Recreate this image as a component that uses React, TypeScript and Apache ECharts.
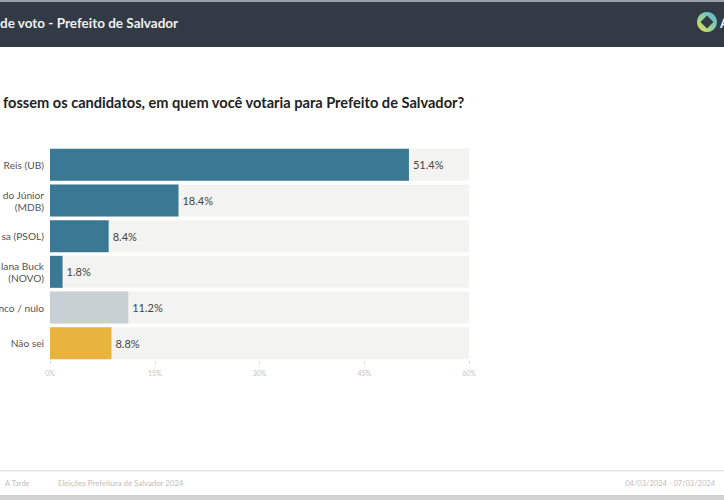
import React, { useEffect, useRef } from "react";
import * as echarts from "echarts";

const categories = ["Reis (UB)", "do Júnior\n(MDB)", "sa (PSOL)", "lana Buck\n(NOVO)", "nco / nulo", "Não sei"];
const values = [51.4, 18.4, 8.4, 1.8, 11.2, 8.8];
const barColors = ["#3b7893", "#3b7893", "#3b7893", "#3b7893", "#c9d0d4", "#e8b43e"];
const tickLabels = ["0%", "15%", "30%", "45%", "60%"];
const headerTitle = "de voto - Prefeito de Salvador";
const question = "fossem os candidatos, em quem você votaria para Prefeito de Salvador?";
const footerSource = "A Tarde";
const footerSurvey = "Eleições Prefeitura de Salvador 2024";
const footerDates = "04/03/2024 - 07/03/2024";

export default function App() {
  const ref = useRef<HTMLDivElement>(null);
  useEffect(() => {
    if (!ref.current) return;
    const chart = echarts.init(ref.current, null, { renderer: "svg" });
    chart.setOption({
      animation: false,
      backgroundColor: "#ffffff",
      textStyle: { fontFamily: "Lato" },
      grid: { left: 50, right: 255, top: 147, bottom: 139, containLabel: false, outerBoundsMode: "none" },
      xAxis: {
        type: "value",
        min: 0,
        max: 60,
        interval: 15,
        axisLine: { show: false },
        axisTick: { show: true, length: 3, lineStyle: { color: "#d8d8d8" } },
        splitLine: { show: false },
        axisLabel: {
          fontSize: 7,
          color: "#c4c4c4",
          margin: 8,
          formatter: (v: number) => tickLabels[Math.round(v / 15)] ?? "",
        },
      },
      yAxis: {
        type: "category",
        data: categories,
        inverse: true,
        axisLine: { show: false },
        axisTick: { show: false },
        axisLabel: { fontSize: 10.2, color: "#555", margin: 6, lineHeight: 12, align: "right" },
      },
      series: [
        {
          type: "bar",
          data: values.map((v, i) => ({ value: v, itemStyle: { color: barColors[i] } })),
          barWidth: 32,
          showBackground: true,
          backgroundStyle: { color: "#f3f3f1" },
          label: {
            show: true,
            position: "right",
            distance: 4,
            fontSize: 11,
            color: "#444",
            formatter: (p: any) => p.value.toFixed(1) + "%",
          },
        },
      ],
      graphic: [
        { type: "rect", left: 0, top: 0, shape: { width: 724, height: 2 }, style: { fill: "#9aa0a6" } },
        { type: "rect", left: 0, top: 2, shape: { width: 724, height: 45 }, style: { fill: "#323a45" } },
        {
          type: "text",
          x: 0,
          y: 23,
          style: { text: headerTitle, fill: "#eef0f2", font: "bold 13.5px Lato", textVerticalAlign: "middle" },
        },
        {
          type: "circle",
          shape: { cx: 707, cy: 22, r: 10 },
          style: {
            fill: new echarts.graphic.LinearGradient(1, 0, 0, 1, [
              { offset: 0, color: "#4fb3e0" },
              { offset: 0.5, color: "#8fd0a0" },
              { offset: 1, color: "#f0e04a" },
            ]),
          },
        },
        {
          type: "polygon",
          shape: { points: [[707, 15.5], [713.5, 22], [707, 28.5], [700.5, 22]] },
          style: { fill: "#323a45" },
        },
        {
          type: "text",
          x: 720,
          y: 23,
          style: { text: "A", fill: "#eef0f2", font: "bold 13.5px Lato", textVerticalAlign: "middle" },
        },
        {
          type: "text",
          x: 3,
          y: 102,
          style: { text: question, fill: "#222", font: "bold 14.6px Lato", textVerticalAlign: "middle" },
        },
        { type: "rect", left: 0, top: 470, shape: { width: 724, height: 1.5 }, style: { fill: "#e6e6e6" } },
        { type: "rect", left: 0, top: 495, shape: { width: 724, height: 5 }, style: { fill: "#d2d2d2" } },
        {
          type: "text",
          x: 5,
          y: 483,
          style: { text: footerSource, fill: "#c0c0c0", font: "7.5px Lato", textVerticalAlign: "middle" },
        },
        {
          type: "text",
          x: 58,
          y: 483,
          style: { text: footerSurvey, fill: "#c0c0c0", font: "7.8px Lato", textVerticalAlign: "middle" },
        },
        {
          type: "text",
          x: 715,
          y: 483,
          style: { text: footerDates, fill: "#c0c0c0", font: "7.5px Lato", textAlign: "right", textVerticalAlign: "middle" },
        },
      ],
    });
    return () => chart.dispose();
  }, []);
  return <div ref={ref} style={{ position: "fixed", left: 0, top: 0, width: 724, height: 500 }} />;
}
